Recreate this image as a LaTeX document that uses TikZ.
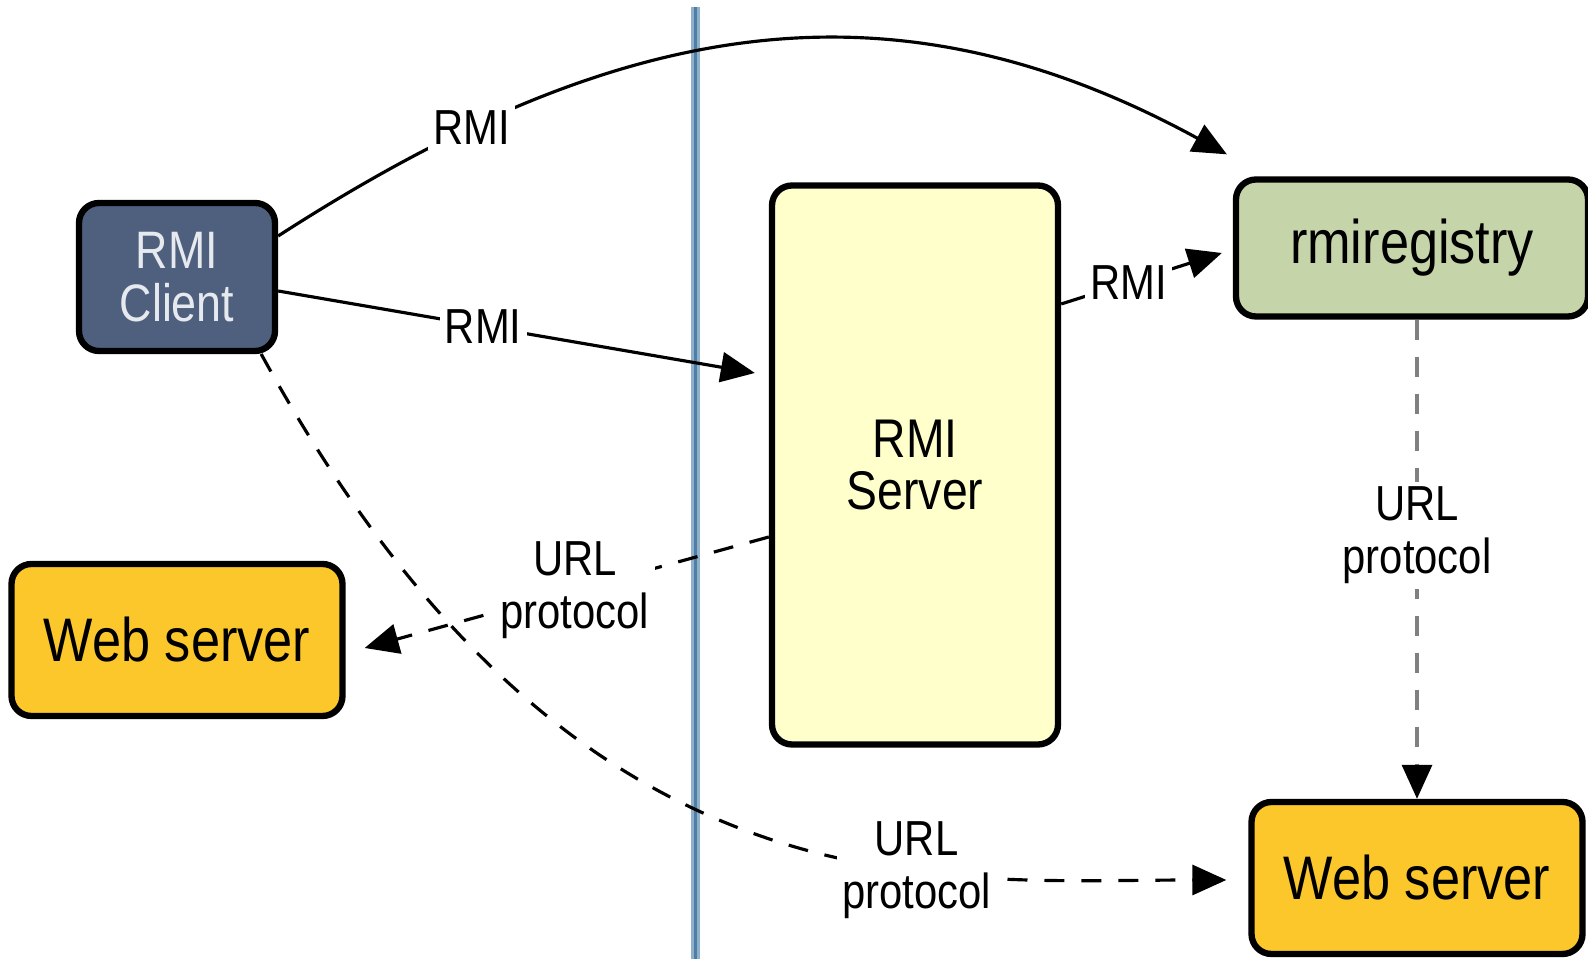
\documentclass[tikz,border=0pt]{standalone}
\usepackage{fontspec}
\setmainfont{Liberation Sans}[FakeStretch=0.85]
\usetikzlibrary{arrows.meta,positioning,calc}
\definecolor{clientfill}{HTML}{4E607E}
\definecolor{clienttext}{HTML}{E6E9EE}
\definecolor{webfill}{HTML}{FCC72A}
\definecolor{srvfill}{HTML}{FFFFCC}
\definecolor{regfill}{HTML}{C6D5A9}
\definecolor{sepouter}{HTML}{8FB0CB}
\definecolor{sepinner}{HTML}{4F7EA5}
\tikzset{
  blk/.style={draw=black,rectangle,rounded corners=0.2cm,line width=1.8pt,align=center,inner sep=2pt},
  clientblk/.style={blk,fill=clientfill,text=clienttext,minimum width=1.96cm,minimum height=1.48cm,font=\fontsize{15}{15}\selectfont},
  webblk/.style={blk,fill=webfill,minimum width=3.31cm,minimum height=1.52cm,font=\fontsize{17.5}{18}\selectfont},
  srvblk/.style={blk,fill=srvfill,minimum width=2.86cm,minimum height=5.59cm,font=\fontsize{15.5}{15}\selectfont},
  regblk/.style={blk,fill=regfill,minimum width=3.52cm,minimum height=1.37cm,font=\fontsize{17.5}{18}\selectfont},
  arr/.style={-{Triangle[length=0.34cm,width=0.3cm,color=black]},line width=0.9pt},
  darr/.style={arr,dash pattern=on 0.2cm off 0.17cm},
  lbl/.style={fill=white,inner sep=1.5pt,align=center,font=\fontsize{14}{15}\selectfont}
}
\begin{document}
\begin{tikzpicture}
  \useasboundingbox (0,0) rectangle (15.88,9.59);
  % Separator
  \draw[sepouter, line width=0.09cm] (6.95,0) -- (6.95,9.52);
  \draw[sepinner, line width=0.03cm] (6.95,0) -- (6.95,9.52);

  % Boxes
  \node[clientblk] (cli) at (1.77,6.82) {RMI\\Client};
  \node[webblk] (webl) at (1.77,3.19) {Web server};
  \node[srvblk] (srv) at (9.15,4.94) {RMI\\Server};
  \node[regblk] (reg) at (14.12,7.11) {rmiregistry};
  \node[webblk] (webr) at (14.17,0.81) {Web server};

  % RMI connections
  \draw[arr] ([yshift=0.41cm]cli.east) .. controls (6.1,9.37) and (8.84,9.92) .. ([xshift=-0.06cm,yshift=0.22cm]reg.north west)
    node[lbl, pos=0.2] (rmitop) {RMI};
  \draw[arr] ([yshift=-0.14cm]cli.east) -- ([xshift=-0.14cm,yshift=0.92cm]srv.west)
    node[lbl, pos=0.43] (rmimid) {RMI};
  \draw[arr] ([yshift=1.61cm]srv.east) -- ([xshift=-0.11cm,yshift=-0.05cm]reg.west)
    node[lbl, pos=0.42] (rmireg) {RMI};

  % URL protocol connections
  \draw[darr] ([yshift=-0.72cm]srv.west) -- ([xshift=0.19cm,yshift=-0.08cm]webl.east)
    node[lbl, pos=0.48] (urlleft) {URL\\protocol};
  \draw[darr] ([xshift=-0.17cm,yshift=-0.77cm]cli.east) .. controls (5.73,0.36) and (9.29,0.79) .. ([xshift=-0.22cm,yshift=-0.02cm]webr.west)
    node[lbl, pos=0.67] (urlbottom) {URL\\protocol};
  \draw[darr, draw=black!50] (webr.north |- reg.south) -- (webr.north)
    node[lbl, pos=0.45] (urlright) {URL\\protocol};
\end{tikzpicture}
\end{document}
